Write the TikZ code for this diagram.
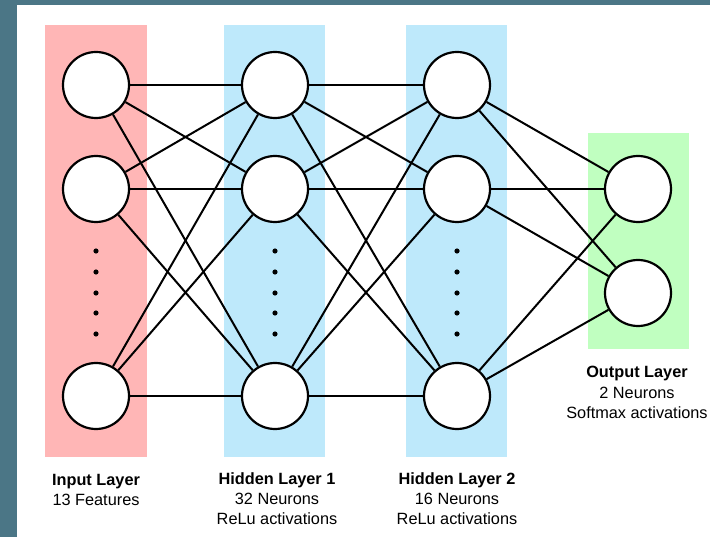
\documentclass[tikz,border=0pt]{standalone}
\usepackage{fontspec}
\setmainfont{Liberation Sans}
\usetikzlibrary{positioning}

\definecolor{framecol}{RGB}{75,118,134}
\definecolor{inputbg}{RGB}{255,182,182}
\definecolor{hiddenbg}{RGB}{190,233,251}
\definecolor{outputbg}{RGB}{192,255,192}

\begin{document}
\begin{tikzpicture}[
  x=1pt, y=-1pt,
  neuron/.style = {circle, draw, line width=2.2pt, fill=white, minimum size=66pt, inner sep=0pt},
  link/.style = {line width=2pt},
  caption/.style = {align=center, anchor=base, inner sep=0pt, font=\fontsize{16.3}{20}\selectfont},
  every node/.style = {font=\small}
]

% Canvas and frame
\useasboundingbox (0,0) rectangle (710,537);
\fill[white] (0,0) rectangle (710,537);
\fill[framecol] (0,0) rectangle (710,5);
\fill[framecol] (0,0) rectangle (17,537);

% Layer backgrounds
\fill[inputbg] (45,25) rectangle (147,457);
\fill[hiddenbg] (224,25) rectangle (325,457);
\fill[hiddenbg] (406,25) rectangle (507,457);
\fill[outputbg] (588,133) rectangle (689,349);

% Input layer
\node[neuron] (i1) at (96,85) {};
\node[neuron] (i2) at (96,189) {};
\node[neuron] (i3) at (96,396) {};

% Hidden layer 1
\node[neuron] (a1) at (275,85) {};
\node[neuron] (a2) at (275,189) {};
\node[neuron] (a3) at (275,396) {};

% Hidden layer 2
\node[neuron] (b1) at (457,85) {};
\node[neuron] (b2) at (457,189) {};
\node[neuron] (b3) at (457,396) {};

% Output layer
\node[neuron] (o1) at (638,189) {};
\node[neuron] (o2) at (638,293) {};

% Vertical dots
\foreach \x in {96,275,457}
  \foreach \y in {251,272,293,313,334}
    \fill (\x,\y) circle (2.6pt);

% Connections
\foreach \s in {i1,i2,i3}
  \foreach \t in {a1,a2,a3}
    \draw[link] (\s) -- (\t);
\foreach \s in {a1,a2,a3}
  \foreach \t in {b1,b2,b3}
    \draw[link] (\s) -- (\t);
\foreach \s in {b1,b2,b3}
  \foreach \t in {o1,o2}
    \draw[link] (\s) -- (\t);

% Captions (anchored at the last baseline)
\node[caption] (inlabel) at (96,505) {\textbf{Input Layer}\\13 Features};
\node[caption] (h1label) at (277,524) {\textbf{Hidden Layer 1}\\32 Neurons\\ReLu activations};
\node[caption] (h2label) at (457,524) {\textbf{Hidden Layer 2}\\16 Neurons\\ReLu activations};
\node[caption] (outlabel) at (637,418) {\textbf{Output Layer}\\2 Neurons\\Softmax activations};

\end{tikzpicture}
\end{document}
